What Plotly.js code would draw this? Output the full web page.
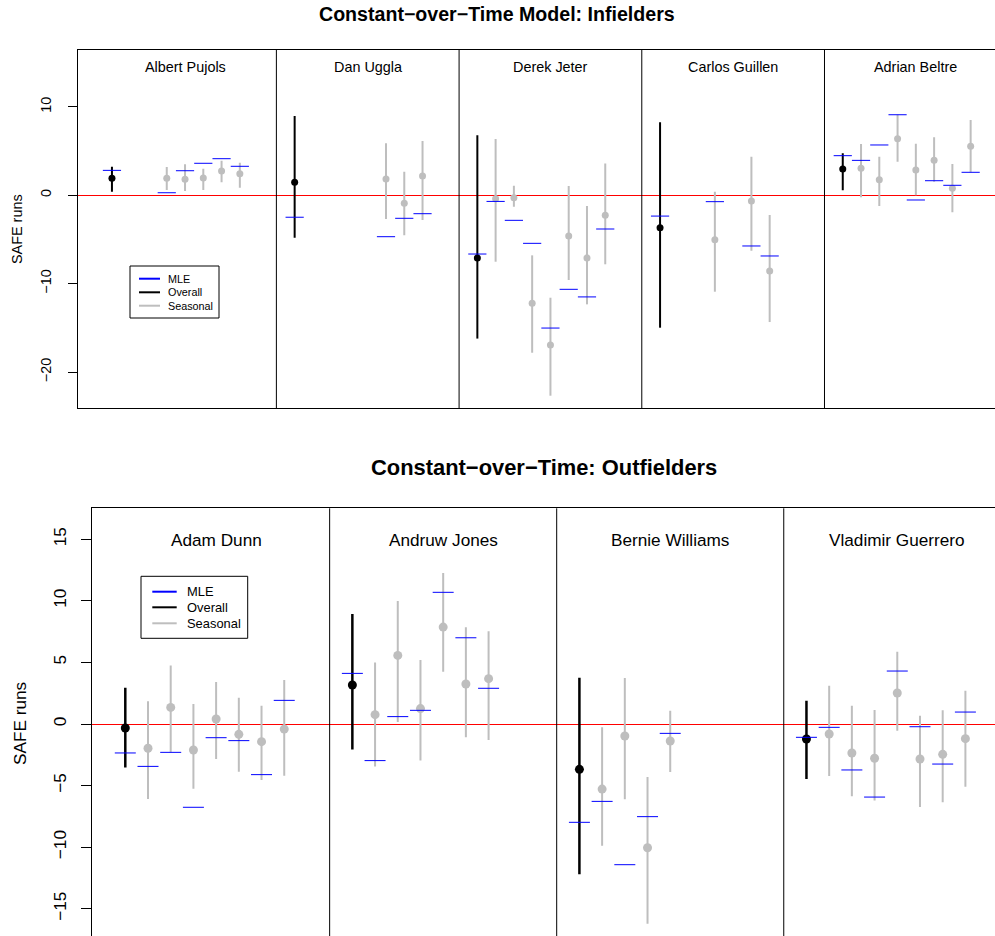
<!DOCTYPE html>
<html>
<head>
<meta charset="utf-8">
<script src="https://cdn.plot.ly/plotly-3.0.1.min.js"></script>
<style>
html, body { margin:0; padding:0; overflow:hidden; background:#fff; }
#plot { width:1010px; height:945px; }
</style>
</head>
<body>
<div id="plot"></div>
<script>
// ---------------- DATA ----------------
// Top chart: infielders
const topTitle = "Constant\u2212over\u2212Time Model: Infielders";
const topPlayers = ["Albert Pujols", "Dan Uggla", "Derek Jeter", "Carlos Guillen", "Adrian Beltre"];
const topOverallEst = [1.91, 1.46, -7.10, -3.67, 2.96];
const topOverallLo  = [0.40, -4.80, -16.21, -14.98, 0.55];
const topOverallHi  = [3.22, 8.95, 6.77, 8.24, 4.74];
const topOverallMLE = [2.81, -2.49, -6.65, -2.36, 4.47];
// season index (1..8) within each player's block
const topSeasonIdx = [[3,4,5,6,7], [5,6,7], [1,2,3,4,5,6,7], [3,5,6], [1,2,3,4,5,6,7]];
const topSeasonEst = [
  [1.91, 1.80, 1.94, 2.74, 2.43],
  [1.83, -0.92, 2.17],
  [-0.40, -0.28, -12.22, -16.93, -4.61, -7.10, -2.27],
  [-5.03, -0.66, -8.57],
  [3.04, 1.75, 6.39, 2.85, 3.94, 0.78, 5.53]
];
const topSeasonLo = [
  [0.59, 0.47, 0.59, 1.46, 0.85],
  [-2.69, -4.53, -2.80],
  [-7.52, -1.30, -17.81, -22.67, -9.59, -12.34, -7.81],
  [-10.91, -6.27, -14.34],
  [-0.24, -1.22, 3.79, -0.01, 1.53, -1.93, 2.59]
];
const topSeasonHi = [
  [3.19, 3.49, 3.00, 3.90, 3.67],
  [5.87, 2.66, 6.13],
  [6.35, 1.07, -6.80, -11.59, 1.04, -1.22, 3.60],
  [0.40, 4.35, -2.24],
  [5.79, 4.35, 9.10, 5.82, 6.56, 3.53, 8.50]
];
const topSeasonMLE = [
  [0.28, 2.77, 3.61, 4.13, 3.27],
  [-4.69, -2.61, -2.09],
  [-0.70, -2.84, -5.44, -15.02, -10.64, -11.50, -3.82],
  [-0.73, -5.74, -6.87],
  [3.94, 5.68, 9.10, -0.54, 1.64, 1.12, 2.59]
];
const topTickVals = [-20, -10, 0, 10];
const topTickText = ["\u221220", "\u221210", "0", "10"];

// Bottom chart: outfielders
const botTitle = "Constant\u2212over\u2212Time: Outfielders";
const botPlayers = ["Adam Dunn", "Andruw Jones", "Bernie Williams", "Vladimir Guerrero"];
const botOverallEst = [-0.32, 3.17, -3.68, -1.22];
const botOverallLo  = [-3.52, -2.06, -12.20, -4.46];
const botOverallHi  = [2.95, 8.93, 3.76, 1.89];
const botOverallMLE = [-2.35, 4.11, -7.98, -1.08];
const botSeasonIdx = [[1,2,3,4,5,6,7], [1,2,3,4,5,6], [1,2,3,4], [1,2,3,4,5,6,7]];
const botSeasonEst = [
  [-1.97, 1.35, -2.11, 0.41, -0.84, -1.43, -0.41],
  [0.76, 5.57, 1.25, 7.87, 3.25, 3.68],
  [-5.28, -0.97, -10.04, -1.38],
  [-0.81, -2.35, -2.78, 2.52, -2.84, -2.46, -1.19]
];
const botSeasonLo = [
  [-6.09, -2.30, -5.25, -2.84, -3.87, -4.55, -4.19],
  [-3.44, 0.16, -2.97, 4.25, -1.08, -1.30],
  [-9.88, -6.11, -16.21, -3.90],
  [-4.22, -5.87, -6.20, -0.54, -6.74, -6.36, -5.09]
];
const botSeasonHi = [
  [1.84, 4.74, 1.62, 3.41, 2.14, 1.49, 3.57],
  [5.00, 9.98, 5.19, 12.26, 7.85, 7.52],
  [-0.27, 3.73, -4.30, 1.08],
  [3.11, 1.49, 1.14, 5.87, 0.68, 1.11, 2.70]
];
const botSeasonMLE = [
  [-3.44, -2.30, -6.76, -1.11, -1.35, -4.11, 1.92],
  [-2.97, 0.60, 1.11, 10.69, 7.00, 2.90],
  [-6.28, -11.42, -7.52, -0.76],
  [-0.27, -3.73, -5.93, 4.30, -0.22, -3.25, 0.97]
];
const botTickVals = [-15, -10, -5, 0, 5, 10, 15];
const botTickText = ["\u221215", "\u221210", "\u22125", "0", "5", "10", "15"];

const legendLabels = ["MLE", "Overall", "Seasonal"];
const yLabel = "SAFE runs";

// ---------------- STYLE / LAYOUT ----------------
const W = 1010, H = 945;
const FONT = "Liberation Sans, Arial, Helvetica, sans-serif";
const BLUE = "#0000FF", GRAY = "#BEBEBE", BLACK = "#000000", RED = "#FF0000";
const BLOCK = 10; // x-units per player block
const px = v => v / W;
const py = v => 1 - v / H;

function buildTraces(spec) {
  const ox = [], oy = [], ohi = [], olo = [], mx = [], my = [];
  const sx = [], sy = [], shi = [], slo = [];
  spec.players.forEach((p, g) => {
    const base = g * BLOCK;
    ox.push(base); oy.push(spec.oEst[g]);
    ohi.push(spec.oHi[g] - spec.oEst[g]); olo.push(spec.oEst[g] - spec.oLo[g]);
    mx.push(base); my.push(spec.oMLE[g]);
    spec.sIdx[g].forEach((k, i) => {
      sx.push(base + k); sy.push(spec.sEst[g][i]);
      shi.push(spec.sHi[g][i] - spec.sEst[g][i]);
      slo.push(spec.sEst[g][i] - spec.sLo[g][i]);
      mx.push(base + k); my.push(spec.sMLE[g][i]);
    });
  });
  const common = {type: "scatter", mode: "markers", xaxis: spec.xa, yaxis: spec.ya, showlegend: false, hoverinfo: "skip"};
  return [
    Object.assign({}, common, {
      x: sx, y: sy,
      marker: {color: GRAY, size: spec.dot},
      error_y: {type: "data", symmetric: false, array: shi, arrayminus: slo, color: GRAY, thickness: spec.barW, width: 0}
    }),
    Object.assign({}, common, {
      x: ox, y: oy,
      marker: {color: BLACK, size: spec.dot},
      error_y: {type: "data", symmetric: false, array: ohi, arrayminus: olo, color: BLACK, thickness: spec.oBarW, width: 0}
    }),
    Object.assign({}, common, {
      x: mx, y: my,
      marker: {symbol: "line-ew", size: spec.mleLen, color: BLUE, line: {color: BLUE, width: 1}}
    })
  ];
}

const topSpec = {players: topPlayers, oEst: topOverallEst, oLo: topOverallLo, oHi: topOverallHi, oMLE: topOverallMLE,
  sIdx: topSeasonIdx, sEst: topSeasonEst, sLo: topSeasonLo, sHi: topSeasonHi, sMLE: topSeasonMLE,
  xa: "x", ya: "y", dot: 7, barW: 2, oBarW: 2, mleLen: 13};
const botSpec = {players: botPlayers, oEst: botOverallEst, oLo: botOverallLo, oHi: botOverallHi, oMLE: botOverallMLE,
  sIdx: botSeasonIdx, sEst: botSeasonEst, sLo: botSeasonLo, sHi: botSeasonHi, sMLE: botSeasonMLE,
  xa: "x2", ya: "y2", dot: 9, barW: 2, oBarW: 2.5, mleLen: 15};

const data = buildTraces(topSpec).concat(buildTraces(botSpec));

const shapes = [];
const annotations = [];

// panel dividers + player labels
function panels(players, xref, yref, labelY, fsize) {
  players.forEach((p, g) => {
    if (g > 0) {
      shapes.push({type: "line", xref: xref, yref: yref + " domain", x0: g * BLOCK - 1, x1: g * BLOCK - 1, y0: 0, y1: 1,
        line: {color: BLACK, width: 1}});
    }
    annotations.push({xref: xref, yref: yref, x: g * BLOCK + 4, y: labelY, text: p, showarrow: false,
      xanchor: "center", yanchor: "middle", font: {family: FONT, size: fsize, color: BLACK}});
  });
}
panels(topPlayers, "x", "y", 14.5, 14.4);
panels(botPlayers, "x2", "y2", 14.9, 17.2);

// legends (drawn manually)
function legend(box, x0, x1, ys, tx, fsize) {
  shapes.push({type: "rect", xref: "paper", yref: "paper", x0: px(box[0]), x1: px(box[1]), y0: py(box[3]), y1: py(box[2]),
    line: {color: BLACK, width: 1}, fillcolor: "rgba(255,255,255,1)"});
  const cols = [BLUE, BLACK, GRAY];
  legendLabels.forEach((lab, i) => {
    shapes.push({type: "line", xref: "paper", yref: "paper", x0: px(x0), x1: px(x1), y0: py(ys[i]), y1: py(ys[i]),
      line: {color: cols[i], width: 2}});
    annotations.push({xref: "paper", yref: "paper", x: px(tx), y: py(ys[i]), text: lab, showarrow: false,
      xanchor: "left", yanchor: "middle", borderpad: 0, font: {family: FONT, size: fsize, color: BLACK}});
  });
}
legend([130, 219, 266, 318], 139, 160, [278.7, 292.3, 305.7], 167, 10.8);
legend([141, 247.7, 576.3, 638.3], 152.3, 176.7, [591.7, 607.3, 623.3], 185.5, 12.9);

// titles
annotations.push({xref: "paper", yref: "paper", x: px(497), y: py(14), text: "<b>" + topTitle + "</b>", showarrow: false,
  xanchor: "center", yanchor: "middle", font: {family: FONT, size: 19.6, color: BLACK}});
annotations.push({xref: "paper", yref: "paper", x: px(544), y: py(467), text: "<b>" + botTitle + "</b>", showarrow: false,
  xanchor: "center", yanchor: "middle", font: {family: FONT, size: 21.9, color: BLACK}});
// y labels
annotations.push({xref: "paper", yref: "paper", x: px(17), y: py(229), text: yLabel, showarrow: false, textangle: -90,
  xanchor: "center", yanchor: "middle", font: {family: FONT, size: 14.4, color: BLACK}});
annotations.push({xref: "paper", yref: "paper", x: px(20), y: py(724), text: yLabel, showarrow: false, textangle: -90,
  xanchor: "center", yanchor: "middle", font: {family: FONT, size: 17.2, color: BLACK}});

const xBase = {showgrid: false, zeroline: false, showticklabels: false, ticks: "", showline: true, mirror: true,
  linecolor: BLACK, linewidth: 1, fixedrange: true};
const yBase = {showgrid: false, zeroline: true, zerolinecolor: RED, zerolinewidth: 1, showline: true, mirror: true,
  linecolor: BLACK, linewidth: 1, ticks: "outside", tickcolor: BLACK, tickwidth: 1, tickangle: -90, fixedrange: true,
  tickmode: "array"};

const layout = {
  width: W, height: H,
  margin: {l: 0, r: 0, t: 0, b: 0, pad: 0},
  paper_bgcolor: "#FFFFFF", plot_bgcolor: "#FFFFFF",
  font: {family: FONT, color: BLACK},
  showlegend: false,
  xaxis: Object.assign({}, xBase, {domain: [px(77.6), px(1005)], range: [-1.88, 48.88], anchor: "y"}),
  yaxis: Object.assign({}, yBase, {domain: [py(408), py(50)], range: [-24.06, 16.42], anchor: "x",
    tickvals: topTickVals, ticktext: topTickText, ticklen: 8.5, ticklabelstandoff: 11, tickfont: {family: FONT, size: 14.4, color: BLACK}}),
  xaxis2: Object.assign({}, xBase, {domain: [px(91.7), px(999)], range: [-1.48, 38.48], anchor: "y2"}),
  yaxis2: Object.assign({}, yBase, {domain: [py(939.6), py(508.3)], range: [-17.5, 17.51], anchor: "x2",
    tickvals: botTickVals, ticktext: botTickText, ticklen: 10, ticklabelstandoff: 8, tickfont: {family: FONT, size: 17.2, color: BLACK}}),
  shapes: shapes,
  annotations: annotations
};

Plotly.newPlot("plot", data, layout, {staticPlot: true, displayModeBar: false});
</script>
</body>
</html>
